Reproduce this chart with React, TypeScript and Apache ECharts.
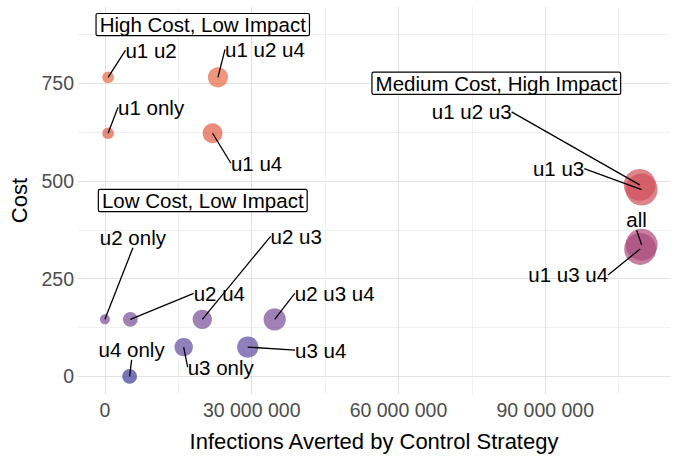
import React, { useEffect, useRef } from "react";
import * as echarts from "echarts";

const strategies = [
  "u1 only", "u1 u2", "u1 u2 u4", "u1 u4",
  "u2 only", "u2 u4", "u2 u3", "u2 u3 u4",
  "u3 only", "u3 u4", "u4 only",
  "u1 u2 u3", "u1 u3", "all", "u1 u3 u4",
];
const infectionsAverted = [
  650000, 650000, 23100000, 22000000,
  0, 5200000, 19900000, 34700000,
  16100000, 29200000, 5050000,
  109300000, 109700000, 109700000, 109400000,
];
const costs = [
  622, 765, 765, 622,
  146, 146, 146, 146,
  75, 75, 0,
  490, 478, 337, 326,
];

const xMajorTicks = [0, 30000000, 60000000, 90000000];
const xMinorTicks = [15000000, 45000000, 75000000, 105000000];
const yMajorTicks = [0, 250, 500, 750];
const yMinorTicks = [125, 375, 625, 875];

const annotationLabels = ["High Cost, Low Impact", "Low Cost, Low Impact", "Medium Cost, High Impact"];
const annotationX = [20000000, 20000000, 80000000];
const annotationY = [900, 450, 750];

// label placement offsets (pixels) relative to each point, like ggrepel output
const labelOffsets: [number, number][] = [
  [43, -26], [43, -27], [47, -28], [44, 30],
  [28, -82], [89, -26], [94, -83], [60, -26],
  [37, 20], [73, 3], [2, -27],
  [-168, -73], [-83, -21], [-5, -25], [-72, 26],
];

const costColors = [
  "rgba(62,59,148,0.7)",
  "rgba(101,76,160,0.7)",
  "rgba(126,76,145,0.7)",
  "rgba(150,75,133,0.7)",
  "rgba(174,74,121,0.7)",
  "rgba(196,77,102,0.7)",
  "rgba(213,81,85,0.7)",
  "rgba(220,89,70,0.7)",
  "rgba(226,97,67,0.7)",
  "rgba(231,105,69,0.7)",
];

const FONT = "'Liberation Sans', Arial, Helvetica, sans-serif";

function fmt(v: number) {
  return String(Math.round(v)).replace(/\B(?=(\d{3})+(?!\d))/g, " ");
}

export default function App() {
  const ref = useRef<HTMLDivElement>(null);
  useEffect(() => {
    const chart = echarts.init(ref.current!, null, { renderer: "svg" });
    const points = strategies.map((name, i) => ({ name, value: [infectionsAverted[i], costs[i]] }));
    const notes = annotationLabels.map((name, i) => ({ name, value: [annotationX[i], annotationY[i]] }));
    const segs: number[][] = [];
    const xMin = -5500000, xMax = 115500000, yMin = -45, yMax = 945;
    chart.setOption({
      animation: false,
      backgroundColor: "#ffffff",
      grid: { left: 77, right: 17, top: 7, bottom: 81 },
      xAxis: [
        {
          type: "value", min: xMin, max: xMax,
          name: "Infections Averted by Control Strategy",
          nameLocation: "middle", nameGap: 36,
          nameTextStyle: { fontFamily: FONT, fontSize: 22, color: "#000" },
          axisLine: { show: false },
          axisTick: { show: false, customValues: xMajorTicks },
          axisLabel: { customValues: xMajorTicks, formatter: fmt, fontFamily: FONT, fontSize: 19.5, color: "#4D4D4D", margin: 6 },
          splitLine: { show: true, lineStyle: { color: "#E3E3E3", width: 1.1 } },
        },
        {
          type: "value", min: xMin, max: xMax, position: "top",
          axisLine: { show: false },
          axisTick: { show: false, customValues: xMinorTicks },
          axisLabel: { show: false },
          splitLine: { show: true, lineStyle: { color: "#EEEEEE", width: 0.8 } },
        },
      ],
      yAxis: [
        {
          type: "value", min: yMin, max: yMax,
          name: "Cost", nameLocation: "middle", nameGap: 48,
          nameTextStyle: { fontFamily: FONT, fontSize: 22, color: "#000" },
          axisLine: { show: false },
          axisTick: { show: false, customValues: yMajorTicks },
          axisLabel: { customValues: yMajorTicks, fontFamily: FONT, fontSize: 19.5, color: "#4D4D4D", margin: 4 },
          splitLine: { show: true, lineStyle: { color: "#E3E3E3", width: 1.1 } },
        },
        {
          type: "value", min: yMin, max: yMax, position: "right",
          axisLine: { show: false },
          axisTick: { show: false, customValues: yMinorTicks },
          axisLabel: { show: false },
          splitLine: { show: true, lineStyle: { color: "#EEEEEE", width: 0.8 } },
        },
      ],
      visualMap: [
        {
          type: "continuous", show: false, seriesIndex: 0, dimension: 1,
          min: 0, max: 765,
          inRange: { color: costColors },
        },
      ],
      series: [
        {
          type: "scatter",
          xAxisIndex: 0, yAxisIndex: 0,
          data: points,
          symbolSize: (v: number[]) => 10 + 2.1 * Math.sqrt(v[0] / 1e6),
          itemStyle: { opacity: 1 },
          label: {
            show: true, position: "inside", formatter: "{b}",
            fontFamily: FONT, fontSize: 20.5, color: "#000",
          },
          labelLayout: (p: any) => {
            const [dx, dy] = labelOffsets[p.dataIndex];
            const cx = p.rect.x + p.rect.width / 2;
            const cy = p.rect.y + p.rect.height / 2;
            const lr = p.labelRect;
            const lx = lr.x + dx, ly = lr.y + dy;
            const cands = [
              [lx, ly + lr.height / 2],
              [lx + lr.width, ly + lr.height / 2],
              [lx + lr.width / 2, ly],
              [lx + lr.width / 2, ly + lr.height],
            ];
            let best = cands[0], bd = Infinity;
            for (const c of cands) {
              const d = (c[0] - cx) ** 2 + (c[1] - cy) ** 2;
              if (d < bd) { bd = d; best = c; }
            }
            segs[p.dataIndex] = [best[0], best[1], cx, cy];
            return { dx, dy, hideOverlap: false };
          },
          emphasis: { disabled: true },
        },
        {
          type: "scatter",
          xAxisIndex: 0, yAxisIndex: 0,
          data: notes,
          symbolSize: 0,
          z: 5,
          itemStyle: { opacity: 1 },
          label: {
            show: true, position: "inside", formatter: "{b}",
            fontFamily: FONT, fontSize: 20.5, color: "#000",
            backgroundColor: "#fff", borderColor: "#000", borderWidth: 1.2,
            borderRadius: 1, padding: [1, 3], lineHeight: 19,
          },
          emphasis: { disabled: true },
        },
      ],
    });
    const lineEls = segs.filter(Boolean).map((s) => ({
      type: "line",
      silent: true,
      z: 50,
      shape: { x1: s[0], y1: s[1], x2: s[2], y2: s[3] },
      style: { stroke: "#000", lineWidth: 1.3 },
    }));
    chart.setOption({ graphic: { elements: lineEls } });
    return () => chart.dispose();
  }, []);
  return <div ref={ref} style={{ position: "fixed", left: 0, top: 0, width: 687, height: 475 }} />;
}
